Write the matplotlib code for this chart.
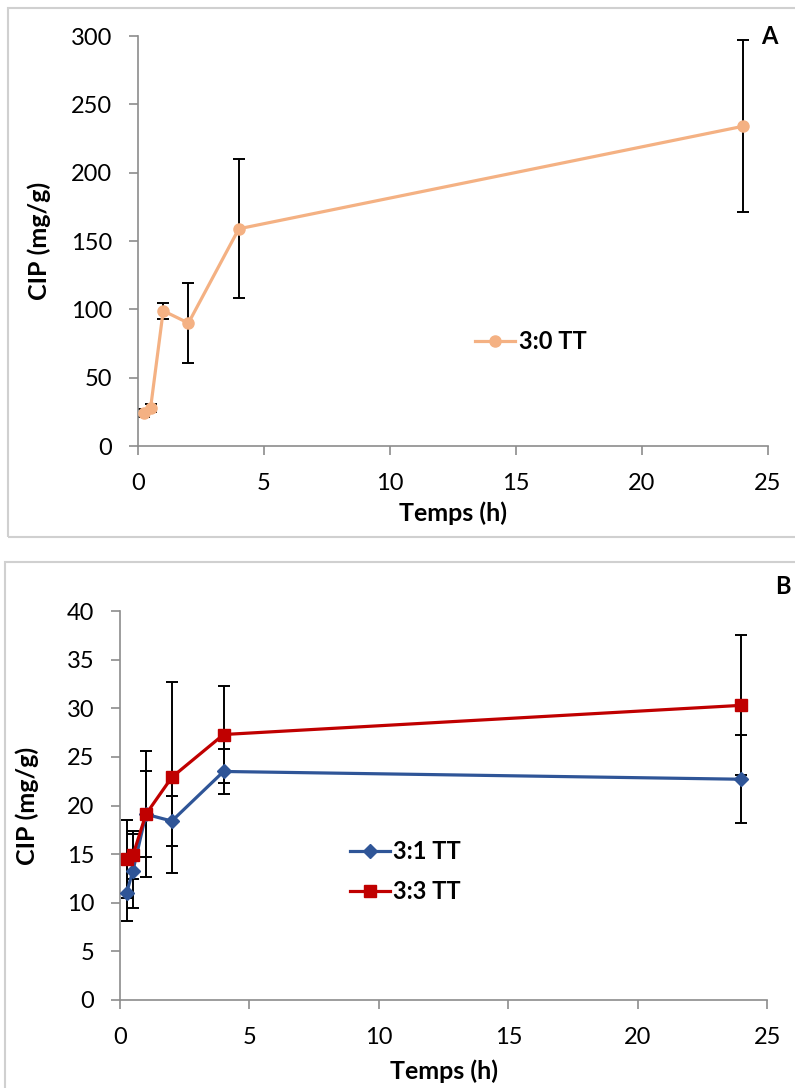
import matplotlib
matplotlib.use("Agg")
import matplotlib.pyplot as plt
from matplotlib.patches import Rectangle

plt.rcParams["font.family"] = ["Lato", "DejaVu Sans"]

# donnees
temps = [0.25, 0.5, 1, 2, 4, 24]

cip_30 = [24, 28, 99, 90, 159, 234]
err_30 = [3, 3, 6, 29, 51, 63]

cip_31 = [11.0, 13.3, 19.1, 18.4, 23.5, 22.7]
err_31 = [2.9, 3.8, 4.4, 2.6, 2.3, 4.5]

cip_33 = [14.5, 14.9, 19.1, 22.9, 27.3, 30.3]
err_33 = [4.0, 2.5, 6.5, 9.8, 5.0, 7.2]

PEACH = "#F4B183"
BLUE = "#2F5597"
RED = "#C00000"
GRAY = "#8C8C8C"

fig = plt.figure(figsize=(7.95, 10.88), dpi=100)

# cadres gris autour des deux panneaux
fig.patches.append(Rectangle((0.010, 0.5064), 1.2, 0.4862, transform=fig.transFigure,
                             fill=False, ec="#D0D0D0", lw=1.5))
fig.patches.append(Rectangle((0.006, -0.1), 1.2, 0.5835, transform=fig.transFigure,
                             fill=False, ec="#D0D0D0", lw=1.5))


def style(ax, ylim, ystep, ylabpad, xlabpad):
    ax.set_xlim(0, 25)
    ax.set_ylim(*ylim)
    ax.set_xticks(range(0, 26, 5))
    ax.set_yticks(range(ylim[0], ylim[1] + 1, ystep))
    for s in ("top", "right"):
        ax.spines[s].set_visible(False)
    for s in ("left", "bottom"):
        ax.spines[s].set_color(GRAY)
        ax.spines[s].set_linewidth(1.2)
    ax.tick_params(direction="out", length=6.5, width=1.2, color=GRAY,
                   labelsize=17)
    ax.tick_params(axis="y", pad=12)
    ax.tick_params(axis="x", pad=13)
    ax.set_xlabel("Temps (h)", fontsize=18, fontweight="bold", labelpad=xlabpad)
    ax.set_ylabel("CIP (mg/g)", fontsize=18, fontweight="bold", labelpad=ylabpad)


def serie(ax, y, err, color, marker, ms, label):
    ax.errorbar(temps, y, yerr=err, fmt="none", ecolor="black",
                elinewidth=1.4, capsize=4, capthick=1.4, zorder=2)
    ax.plot(temps, y, color=color, lw=2.3, marker=marker, ms=ms,
            label=label, zorder=3)


leg_kw = dict(frameon=False, prop={"size": 17, "weight": "bold"},
              handlelength=1.7, handletextpad=0.15, borderaxespad=0)

# Panneau A
axA = fig.add_axes([0.1736, 0.590, 0.7925, 0.3768])
serie(axA, cip_30, err_30, PEACH, "o", 8, "3:0 TT")
style(axA, (0, 300), 50, 14, 5)
axA.legend(loc="center left", bbox_to_anchor=(0.52, 0.255), **leg_kw)
fig.text(0.968, 0.966, "A", fontsize=17, fontweight="bold", ha="center", va="center")

# Panneau B
axB = fig.add_axes([0.151, 0.0809, 0.814, 0.3575])
serie(axB, cip_31, err_31, BLUE, "D", 7, "3:1 TT")
serie(axB, cip_33, err_33, RED, "s", 8, "3:3 TT")
style(axB, (0, 40), 5, 20, 8)
axB.legend(loc="center left", bbox_to_anchor=(0.34, 0.33), labelspacing=0.75, **leg_kw)
fig.text(0.985, 0.461, "B", fontsize=17, fontweight="bold", ha="center", va="center")

fig.savefig("out.png", dpi=100, facecolor="white")
